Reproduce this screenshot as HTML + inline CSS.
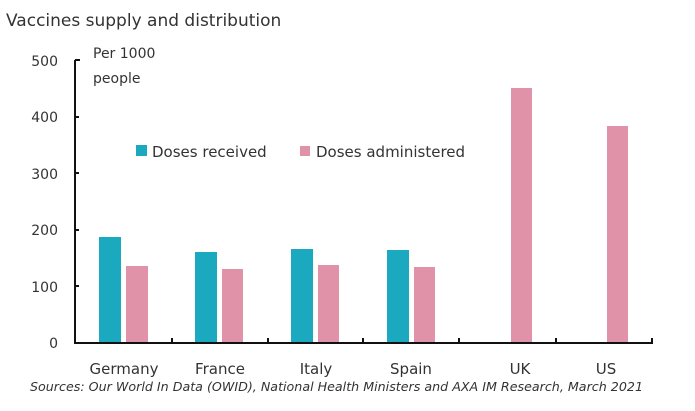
<!DOCTYPE html>
<html><head><meta charset="utf-8"><style>
body{margin:0;background:#fff;width:695px;height:406px;overflow:hidden}
svg text{font-family:"DejaVu Sans","Liberation Sans",sans-serif;fill:#333}
</style></head><body>
<svg width="695" height="406" viewBox="0 0 695 406" xmlns="http://www.w3.org/2000/svg">
<text x="6" y="26" font-size="17" fill="#222">Vaccines supply and distribution</text>
<g font-size="14" text-anchor="end">
<text x="58" y="66">500</text><text x="58" y="122">400</text><text x="58" y="179">300</text>
<text x="58" y="235">200</text><text x="58" y="292">100</text><text x="58" y="348">0</text>
</g>
<text x="93" y="58" font-size="14">Per 1000</text>
<text x="93" y="83" font-size="14">people</text>
<g fill="#1aa9be">
<rect x="99" y="237" width="22" height="106"/>
<rect x="195" y="252" width="22" height="91"/>
<rect x="291" y="249" width="22" height="94"/>
<rect x="387" y="250" width="22" height="93"/>
<rect x="136" y="145" width="11" height="11"/>
</g>
<g fill="#e092a9">
<rect x="126" y="266" width="22" height="77"/>
<rect x="222" y="269" width="21" height="74"/>
<rect x="318" y="265" width="21" height="78"/>
<rect x="414" y="267" width="21" height="76"/>
<rect x="511" y="88" width="21" height="255"/>
<rect x="607" y="126" width="21" height="217"/>
<rect x="300" y="146" width="10" height="10"/>
</g>
<text x="152" y="157" font-size="15">Doses received</text>
<text x="316" y="157" font-size="15">Doses administered</text>
<g stroke="#111" stroke-width="2" fill="none">
<line x1="75" y1="60" x2="75" y2="344"/>
<line x1="74" y1="343" x2="653" y2="343"/>
<line x1="75" y1="60" x2="80" y2="60"/><line x1="75" y1="117" x2="79" y2="117"/>
<line x1="75" y1="173" x2="79" y2="173"/><line x1="75" y1="230" x2="79" y2="230"/>
<line x1="75" y1="286" x2="79" y2="286"/>
<line x1="172" y1="343" x2="172" y2="338"/><line x1="268" y1="343" x2="268" y2="338"/>
<line x1="363" y1="343" x2="363" y2="338"/><line x1="459" y1="343" x2="459" y2="338"/>
<line x1="556" y1="343" x2="556" y2="338"/><line x1="652" y1="343" x2="652" y2="338"/>
</g>
<g font-size="15" text-anchor="middle">
<text x="124" y="374">Germany</text><text x="220" y="374">France</text>
<text x="316" y="374">Italy</text><text x="411" y="374">Spain</text>
<text x="520" y="374">UK</text><text x="606" y="374">US</text>
</g>
<text x="30" y="391" font-size="12" font-style="italic" textLength="613" lengthAdjust="spacingAndGlyphs">Sources: Our World In Data (OWID), National Health Ministers and AXA IM Research, March 2021</text>
</svg>
</body></html>
